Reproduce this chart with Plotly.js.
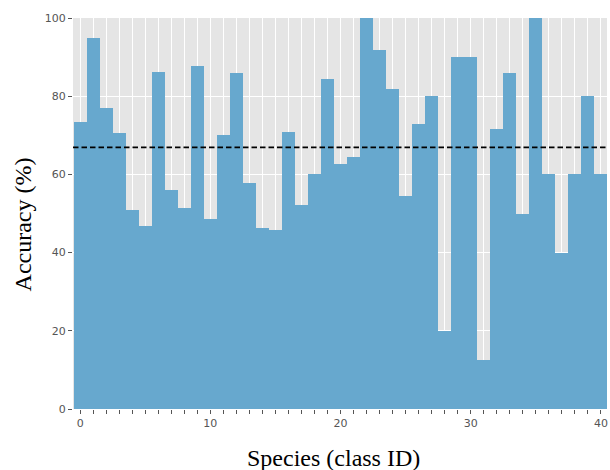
<!DOCTYPE html>
<html>
<head>
<meta charset="utf-8">
<script src="https://cdn.plot.ly/plotly-3.0.1.min.js"></script>
<style>html,body{margin:0;padding:0;background:#fff;}#chart{width:610px;height:470px;}</style>
</head>
<body>
<div id="chart"></div>
<script>
const classIds = [0,1,2,3,4,5,6,7,8,9,10,11,12,13,14,15,16,17,18,19,20,21,22,23,24,25,26,27,28,29,30,31,32,33,34,35,36,37,38,39,40];
const accuracy = [73.3,94.9,76.9,70.5,50.8,46.7,86.2,55.9,51.5,87.7,
                  48.5,70.0,85.9,57.8,46.2,45.9,70.8,52.1,60.0,84.4,
                  62.6,64.4,100,91.8,81.8,54.6,72.8,80.0,20.0,90.0,
                  90.0,12.5,71.5,85.9,50.0,100,60.0,40.0,60.0,80.0,60.0];
const meanAccuracy = 66.9;
const xTickVals = [0,10,20,30,40];
const yTickVals = [0,20,40,60,80,100];
const xTitle = 'Species (class ID)';
const yTitle = 'Accuracy (%)';

const tickFont = {family: 'DejaVu Sans', size: 11, color: '#555555'};
const titleFont = {family: 'Liberation Serif', size: 24, color: '#000000'};

Plotly.newPlot('chart', [{
  type: 'bar',
  x: classIds,
  y: accuracy,
  marker: {color: '#67a8ce', line: {width: 0}},
  width: 1,
  hoverinfo: 'x+y'
}], {
  width: 610, height: 470,
  margin: {l: 73, r: 3, t: 18, b: 61},
  paper_bgcolor: '#ffffff',
  plot_bgcolor: '#e5e5e5',
  bargap: 0,
  showlegend: false,
  xaxis: {
    range: [-0.55, 40.47],
    tickvals: xTickVals,
    ticks: 'outside', ticklen: 4, tickcolor: '#555555', tickwidth: 1,
    tickfont: tickFont,
    showgrid: true, gridcolor: '#ffffff', gridwidth: 1,
    zeroline: false, showline: false,
    minor: {dtick: 1, tick0: 0, ticks: 'outside', ticklen: 4, tickcolor: '#555555', showgrid: true, gridcolor: '#ffffff', gridwidth: 1}
  },
  yaxis: {
    range: [0, 100],
    tickvals: yTickVals,
    ticks: 'outside', ticklen: 4, tickcolor: '#555555', tickwidth: 1,
    tickfont: tickFont,
    showgrid: true, gridcolor: '#ffffff', gridwidth: 1,
    zeroline: false, showline: false
  },
  annotations: [
    {text: xTitle, font: titleFont, showarrow: false, xref: 'paper', yref: 'paper',
     x: 0.487, y: 0, xanchor: 'center', yanchor: 'middle', yshift: -49},
    {text: yTitle, font: titleFont, showarrow: false, xref: 'paper', yref: 'paper', textangle: -90,
     x: 0, y: 0.472, xanchor: 'center', yanchor: 'middle', xshift: -50}
  ],
  shapes: [{
    type: 'line', xref: 'paper', x0: 0, x1: 1, yref: 'y', y0: meanAccuracy, y1: meanAccuracy,
    line: {color: '#000000', width: 1.8, dash: '5.5px,3px'}
  }]
}, {displayModeBar: false, staticPlot: true});
</script>
</body>
</html>
